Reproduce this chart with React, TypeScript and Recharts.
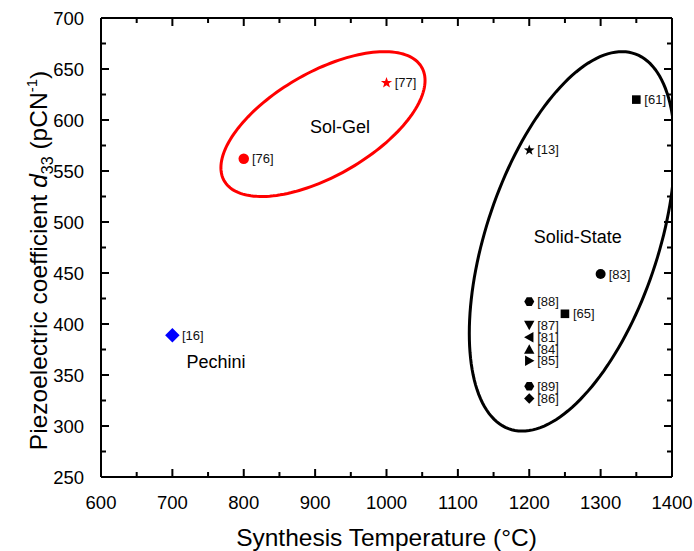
import React from 'react';
import { ScatterChart, Scatter, XAxis, YAxis } from 'recharts';

const FONT = '"Liberation Sans", Arial, Helvetica, sans-serif';

// ---- data ----
const refLabels = ['[16]', '[76]', '[77]', '[61]', '[13]', '[83]', '[88]', '[65]', '[87]', '[81]', '[84]', '[85]', '[89]', '[86]'];
const temperatures = [700, 800, 1000, 1350, 1200, 1300, 1200, 1250, 1200, 1200, 1200, 1200, 1200, 1200];
const d33Values = [389, 562, 637, 620, 571, 449, 422, 410, 399, 387, 375, 364, 339, 327];
const markerShapes = ['diamond', 'circle', 'star', 'square', 'star', 'circle', 'hexagon', 'square', 'triangleDown', 'triangleLeft', 'triangleUp', 'triangleRight', 'hexagon', 'diamond'];
const methods = ['Pechini', 'Sol-Gel', 'Sol-Gel', 'Solid-State', 'Solid-State', 'Solid-State', 'Solid-State', 'Solid-State', 'Solid-State', 'Solid-State', 'Solid-State', 'Solid-State', 'Solid-State', 'Solid-State'];

const regionNames = ['Sol-Gel', 'Solid-State', 'Pechini'];
const regionX = [935, 1268, 761];
const regionY = [593, 485, 363];

// ellipse outlines (data units): centre, half-extents, phase between x and y (deg)
const ellipseNames = ['Sol-Gel', 'Solid-State'];
const ellipseCenterX = [911, 1260];
const ellipseCenterY = [596, 481];
const ellipseRadiusX = [143, 144];
const ellipseRadiusY = [71, 186];
const ellipsePhase = [127, 119];

const xTicks = [600, 650, 700, 750, 800, 850, 900, 950, 1000, 1050, 1100, 1150, 1200, 1250, 1300, 1350, 1400];
const yTicks = [250, 275, 300, 325, 350, 375, 400, 425, 450, 475, 500, 525, 550, 575, 600, 625, 650, 675, 700];

// ---- styles ----
const methodColors: Record<string, string> = { Pechini: '#0000ff', 'Sol-Gel': '#ff0000', 'Solid-State': '#000000' };
const markerScale: Record<string, number> = { Pechini: 1.4, 'Sol-Gel': 1.05, 'Solid-State': 1 };

const points = refLabels.map((citation, i) => ({
  x: temperatures[i],
  y: d33Values[i],
  citation,
  marker: markerShapes[i],
  method: methods[i],
}));

const regions = regionNames.map((label, i) => ({ x: regionX[i], y: regionY[i], label }));

function ellipseData(i: number) {
  const pts: { x: number; y: number }[] = [];
  const n = 160;
  const ph = (ellipsePhase[i] * Math.PI) / 180;
  for (let k = 0; k <= n; k++) {
    const t = (2 * Math.PI * k) / n;
    pts.push({
      x: ellipseCenterX[i] + ellipseRadiusX[i] * Math.cos(t),
      y: ellipseCenterY[i] - ellipseRadiusY[i] * Math.cos(t + ph),
    });
  }
  return pts;
}

const EmptyShape = () => <g />;

function polygon(pts: number[][]) {
  return pts.map((p) => p.join(',')).join(' ');
}

const Marker = (props: any) => {
  const { cx, cy, payload } = props;
  if (cx == null || cy == null || !payload) return <g />;
  const c = methodColors[payload.method];
  const s = markerScale[payload.method];
  let el: any = null;
  switch (payload.marker) {
    case 'circle':
      el = <circle cx={cx} cy={cy} r={5 * s} fill={c} />;
      break;
    case 'square':
      el = <rect x={cx - 4.3 * s} y={cy - 4.3 * s} width={8.6 * s} height={8.6 * s} fill={c} />;
      break;
    case 'diamond': {
      const r = 5.2 * s;
      el = <polygon points={polygon([[cx, cy - r], [cx + r, cy], [cx, cy + r], [cx - r, cy]])} fill={c} />;
      break;
    }
    case 'star': {
      const pts: number[][] = [];
      const R = 5.6 * s;
      const r = 2.3 * s;
      for (let k = 0; k < 10; k++) {
        const a = -Math.PI / 2 + (k * Math.PI) / 5;
        const rr = k % 2 === 0 ? R : r;
        pts.push([cx + rr * Math.cos(a), cy + 0.6 + rr * Math.sin(a)]);
      }
      el = <polygon points={polygon(pts)} fill={c} />;
      break;
    }
    case 'hexagon': {
      const pts: number[][] = [];
      const R = 5 * s;
      for (let k = 0; k < 6; k++) {
        const a = (k * Math.PI) / 3;
        pts.push([cx + R * Math.cos(a), cy + R * Math.sin(a)]);
      }
      el = <polygon points={polygon(pts)} fill={c} />;
      break;
    }
    case 'triangleUp': {
      const r = 5.2;
      el = <polygon points={polygon([[cx, cy - r], [cx + r, cy + r * 0.8], [cx - r, cy + r * 0.8]])} fill={c} />;
      break;
    }
    case 'triangleDown': {
      const r = 5.2;
      el = <polygon points={polygon([[cx, cy + r], [cx + r, cy - r * 0.8], [cx - r, cy - r * 0.8]])} fill={c} />;
      break;
    }
    case 'triangleLeft': {
      const r = 5.2;
      el = <polygon points={polygon([[cx - r, cy], [cx + r * 0.8, cy - r], [cx + r * 0.8, cy + r]])} fill={c} />;
      break;
    }
    case 'triangleRight': {
      const r = 5.2;
      el = <polygon points={polygon([[cx + r, cy], [cx - r * 0.8, cy - r], [cx - r * 0.8, cy + r]])} fill={c} />;
      break;
    }
    default:
      el = <circle cx={cx} cy={cy} r={5} fill={c} />;
  }
  return (
    <g>
      {el}
      <text x={cx + 8 + (s - 1) * 4} y={cy} dominantBaseline="central" fontSize={13} fill="#111" fontFamily={FONT}>
        {payload.citation}
      </text>
    </g>
  );
};

const RegionText = (props: any) => {
  const { cx, cy, payload } = props;
  if (cx == null || cy == null || !payload) return <g />;
  return (
    <text x={cx} y={cy} textAnchor="middle" dominantBaseline="central" fontSize={18} fill="#000" fontFamily={FONT}>
      {payload.label}
    </text>
  );
};

const BottomTick = (props: any) => {
  const { x, y, payload } = props;
  const major = payload.value % 100 === 0;
  const len = major ? 8 : 5;
  return (
    <g>
      <rect x={x - 1} y={y - len} width={2} height={len} fill="#000" />
      {major ? (
        <text x={x} y={y + 25} textAnchor="middle" dominantBaseline="central" fontSize={18.5} fill="#000" fontFamily={FONT}>
          {payload.value}
        </text>
      ) : null}
    </g>
  );
};

const TopTick = (props: any) => {
  const { x, y, payload } = props;
  const len = payload.value % 100 === 0 ? 8 : 5;
  return <rect x={x - 1} y={y} width={2} height={len} fill="#000" />;
};

const LeftTick = (props: any) => {
  const { x, y, payload } = props;
  const major = payload.value % 50 === 0;
  const len = major ? 8 : 5;
  return (
    <g>
      <rect x={x} y={y - 1} width={len} height={2} fill="#000" />
      {major ? (
        <text x={x - 17} y={y} textAnchor="end" dominantBaseline="central" fontSize={18.5} fill="#000" fontFamily={FONT}>
          {payload.value}
        </text>
      ) : null}
    </g>
  );
};

const RightTick = (props: any) => {
  const { x, y, payload } = props;
  const len = payload.value % 50 === 0 ? 8 : 5;
  return <rect x={x - len} y={y - 1} width={len} height={2} fill="#000" />;
};

const XTitle = (props: any) => {
  const vb = props.viewBox;
  return (
    <text x={vb.x + vb.width / 2} y={vb.y + 69} textAnchor="middle" fontSize={24.5} fill="#000" fontFamily={FONT}>
      Synthesis Temperature (°C)
    </text>
  );
};

const YTitle = (props: any) => {
  const vb = props.viewBox;
  const cx = vb.x + 47;
  const cy = vb.y + vb.height / 2 + 13;
  return (
    <text transform={`translate(${cx}, ${cy}) rotate(-90)`} x={0} y={0} textAnchor="middle" fontSize={24.5} fill="#000" fontFamily={FONT}>
      <tspan>Piezoelectric coefficient </tspan>
      <tspan fontStyle="italic">d</tspan>
      <tspan dy={6} fontSize={16}>33</tspan>
      <tspan dy={-6}> (pCN</tspan>
      <tspan dy={-10} fontSize={15}>-1</tspan>
      <tspan dy={10}>)</tspan>
    </text>
  );
};

export default function App() {
  return (
    <div style={{ position: 'absolute', left: 0, top: 0 }}>
      <ScatterChart width={694} height={551} margin={{ top: 17, right: 21, left: 0, bottom: 0 }}>
        <XAxis
          xAxisId="bottom"
          dataKey="x"
          type="number"
          domain={[600, 1400]}
          allowDataOverflow
          ticks={xTicks}
          interval={0}
          height={74}
          tickSize={0}
          tickMargin={0}
          tickLine={false}
          axisLine={{ stroke: '#000', strokeWidth: 2 }}
          tick={<BottomTick />}
          label={{ content: (p: any) => <XTitle {...p} /> }}
        />
        <XAxis
          xAxisId="top"
          orientation="top"
          dataKey="x"
          type="number"
          domain={[600, 1400]}
          allowDataOverflow
          ticks={xTicks}
          interval={0}
          height={1}
          tickSize={0}
          tickMargin={0}
          tickLine={false}
          axisLine={{ stroke: '#000', strokeWidth: 2 }}
          tick={<TopTick />}
        />
        <YAxis
          yAxisId="left"
          dataKey="y"
          type="number"
          domain={[250, 700]}
          allowDataOverflow
          ticks={yTicks}
          interval={0}
          width={101}
          tickSize={0}
          tickMargin={0}
          tickLine={false}
          axisLine={{ stroke: '#000', strokeWidth: 2 }}
          tick={<LeftTick />}
          label={{ content: (p: any) => <YTitle {...p} /> }}
        />
        <YAxis
          yAxisId="right"
          orientation="right"
          dataKey="y"
          type="number"
          domain={[250, 700]}
          allowDataOverflow
          ticks={yTicks}
          interval={0}
          width={1}
          tickSize={0}
          tickMargin={0}
          tickLine={false}
          axisLine={{ stroke: '#000', strokeWidth: 2 }}
          tick={<RightTick />}
        />
        <Scatter xAxisId="top" yAxisId="right" data={regions} shape={EmptyShape} isAnimationActive={false} />
        {ellipseNames.map((name, i) => (
          <Scatter
            key={name}
            xAxisId="bottom"
            yAxisId="left"
            data={ellipseData(i)}
            line={{ stroke: methodColors[name], strokeWidth: 3 }}
            lineType="joint"
            shape={EmptyShape}
            isAnimationActive={false}
          />
        ))}
        <Scatter xAxisId="bottom" yAxisId="left" data={regions} shape={RegionText} isAnimationActive={false} />
        <Scatter xAxisId="bottom" yAxisId="left" data={points} shape={Marker} isAnimationActive={false} />
      </ScatterChart>
    </div>
  );
}
